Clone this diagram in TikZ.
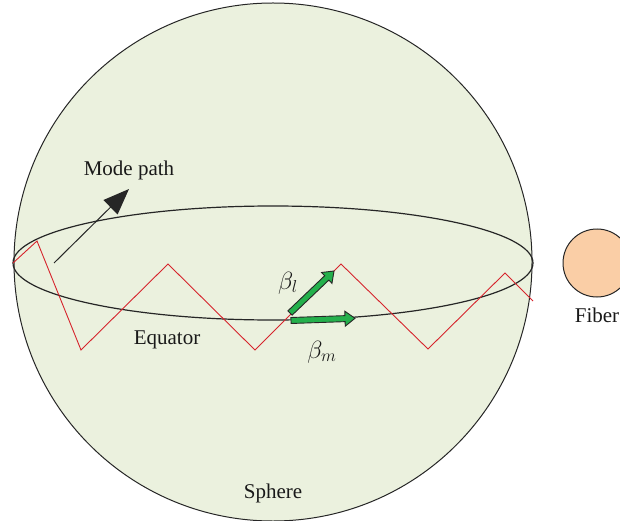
\documentclass[tikz,border=0pt]{standalone}
\usepackage{fontspec}
\setmainfont{Liberation Serif}
\usetikzlibrary{arrows.meta, calc}

\definecolor{spherefill}{RGB}{235,241,222}
\definecolor{fiberfill}{RGB}{250,206,166}
\definecolor{pathred}{RGB}{214,36,44}
\definecolor{betagreen}{RGB}{36,176,76}

% thick outlined arrow: tail, tip, name
\newcommand{\fatarrow}[3]{%
  \coordinate (#3-hb) at ($(#2)!10pt!(#1)$);
  \filldraw[beta] ($(#1)!3pt!90:(#2)$) -- ($(#3-hb)!3pt!90:(#2)$)
    -- ($(#3-hb)!7.5pt!90:(#2)$) -- (#2) -- ($(#3-hb)!7.5pt!-90:(#2)$)
    -- ($(#3-hb)!3pt!-90:(#2)$) -- ($(#1)!3pt!-90:(#2)$) -- cycle;
}

\begin{document}
\begin{tikzpicture}[x=1pt, y=-1pt, >=Stealth,
      lbl/.style={font=\fontsize{21}{25}\selectfont, inner sep=0pt, text=black!90},
      mlbl/.style={font=\fontsize{24}{28}\selectfont, inner sep=0pt, text=black!90},
      modepath/.style={draw=pathred, line width=0.9pt, line join=miter},
      beta/.style={fill=betagreen, draw=black!85, line width=0.9pt, line join=miter}]

    \useasboundingbox (0,0) rectangle (620,521);
    \clip (0,0) rectangle (620,521);

    % ---- Sphere and fiber ----
    \coordinate (sc) at (273,262);
    \filldraw[fill=spherefill, draw=black!85, line width=1pt] (sc) circle (259);
    \filldraw[fill=fiberfill, draw=black!85, line width=1pt] (597,263) coordinate (fc) circle (34);

    % ---- Equator ----
    \draw[black!85, line width=1.2pt] (273,263) coordinate (ec) ellipse (260 and 57);

    % ---- Zigzag mode path ----
    \foreach \n/\px/\py in {0/13/263, 1/37/241, 2/81/350, 3/168/264, 4/255/350,
                            5/341/264, 6/428/349, 7/505/273, 8/533/301}
      \coordinate (z\n) at (\px,\py);
    \draw[modepath] (z0) -- (z1) -- (z2) -- (z3) -- (z4) -- (z5) -- (z6) -- (z7) -- (z8);

    % ---- Mode path pointer ----
    \coordinate (mp-tail) at (54,263);
    \coordinate (mp-tip) at (129,189);
    \draw[black!85, line width=1pt, -{Triangle[length=26pt, width=20pt]}] (mp-tail) -- (mp-tip);

    % ---- Propagation constants ----
    \coordinate (bl-tail) at (290,313);
    \coordinate (bl-tip) at (334,271);
    \coordinate (bm-tail) at (291,320.5);
    \coordinate (bm-tip) at (355,318.3);
    \fatarrow{bl-tail}{bl-tip}{bl}
    \fatarrow{bm-tail}{bm-tip}{bm}

    % ---- Labels ----
    \node[lbl, anchor=base] (mode) at (129,176) {Mode path};
    \node[lbl, anchor=base] (equator) at (167,344) {Equator};
    \node[lbl, anchor=base] (sphere) at (273,498) {Sphere};
    \node[lbl, anchor=base] (fiber) at (597,322) {Fiber};
    \node[mlbl] (betal) at (288,283) {$\beta_l$};
    \node[mlbl] (betam) at (322,352) {$\beta_m$};

\end{tikzpicture}
\end{document}
